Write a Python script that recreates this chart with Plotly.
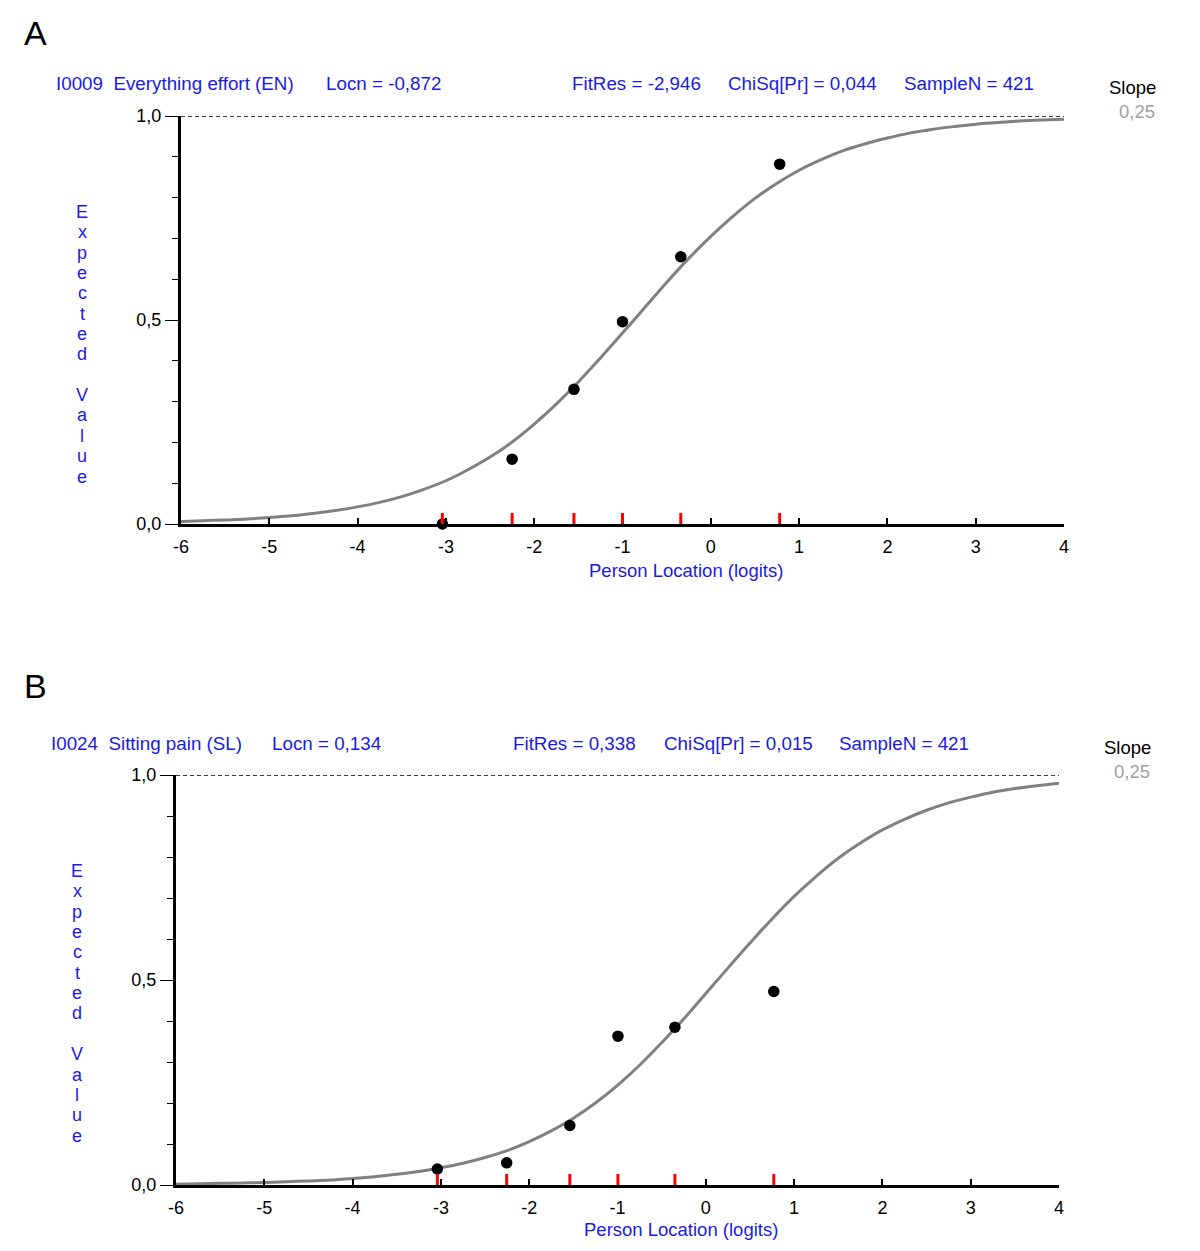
import plotly.graph_objects as go

# ---------------- data ----------------
curve_x = [-6, -5.75, -5.5, -5.25, -5, -4.75, -4.5, -4.25, -4, -3.75, -3.5, -3.25, -3, -2.75, -2.5, -2.25,
           -2, -1.75, -1.5, -1.25, -1, -0.75, -0.5, -0.25, 0, 0.25, 0.5, 0.75, 1, 1.25, 1.5, 1.75, 2,
           2.25, 2.5, 2.75, 3, 3.25, 3.5, 3.75, 4]
curve_a = [0.006, 0.008, 0.010, 0.012, 0.016, 0.020, 0.026, 0.033, 0.042, 0.053, 0.067, 0.085, 0.106,
           0.133, 0.164, 0.201, 0.245, 0.294, 0.348, 0.407, 0.468, 0.530, 0.592, 0.651, 0.705, 0.754,
           0.798, 0.835, 0.867, 0.893, 0.915, 0.932, 0.946, 0.958, 0.967, 0.974, 0.980, 0.984, 0.988,
           0.990, 0.992]
curve_b = [0.002, 0.003, 0.004, 0.005, 0.006, 0.008, 0.010, 0.012, 0.016, 0.020, 0.026, 0.033, 0.042,
           0.053, 0.067, 0.084, 0.106, 0.132, 0.163, 0.200, 0.243, 0.292, 0.347, 0.405, 0.467, 0.529,
           0.590, 0.649, 0.704, 0.753, 0.797, 0.834, 0.866, 0.892, 0.914, 0.932, 0.946, 0.958, 0.967,
           0.974, 0.980]

obs_x_a = [-3.04, -2.25, -1.55, -1.00, -0.34, 0.78]
obs_y_a = [0.0, 0.159, 0.330, 0.496, 0.655, 0.882]
obs_x_b = [-3.04, -2.255, -1.54, -0.995, -0.35, 0.77]
obs_y_b = [0.039, 0.054, 0.145, 0.363, 0.385, 0.472]

x_tick_vals = [-6, -5, -4, -3, -2, -1, 0, 1, 2, 3, 4]
x_tick_text = ["-6", "-5", "-4", "-3", "-2", "-1", "0", "1", "2", "3", "4"]
y_tick_vals = [0, 0.5, 1.0]
y_tick_text = ["0,0", "0,5", "1,0"]

panel_letters = ["A", "B"]
item_labels = ["I0009  Everything effort (EN)", "I0024  Sitting pain (SL)"]
locn_labels = ["Locn = -0,872", "Locn = 0,134"]
fitres_labels = ["FitRes = -2,946", "FitRes = 0,338"]
chisq_labels = ["ChiSq[Pr] = 0,044", "ChiSq[Pr] = 0,015"]
samplen_labels = ["SampleN = 421", "SampleN = 421"]
slope_values = ["0,25", "0,25"]
x_title = "Person Location (logits)"
y_title = "Expected Value"

# ---------------- layout helpers ----------------
PAGE_W, PAGE_H = 1200, 1251
OFF = 8  # default body margin of the html page
W, H = PAGE_W - OFF, PAGE_H - OFF
BLUE = "#1a1ae6"
FONT = "Liberation Sans, Arial, sans-serif"


def px(x):
    return (x - OFF) / W


def py(y):
    return 1 - (y - OFF) / H


panels = [
    dict(xl=181, xr=1064, yt=116, yb=524, letter=(35, 33), head_y=84,
         head_x=[55, 325, 571, 727, 903], slope=(1132, 88, 1137, 111),
         ytitle=(82, 212), xtitle=(686, 570),
         curve=curve_a, ox=obs_x_a, oy=obs_y_a),
    dict(xl=176, xr=1059, yt=775, yb=1185, letter=(35, 686), head_y=743,
         head_x=[50, 271, 512, 663, 838], slope=(1127, 747, 1132, 771),
         ytitle=(77, 871), xtitle=(681, 1229),
         curve=curve_b, ox=obs_x_b, oy=obs_y_b),
]

fig = go.Figure()
annotations = []
shapes = []


def ann(text, x, y, size, color, xanchor="center"):
    return dict(text=text, x=px(x), y=py(y), xref="paper", yref="paper",
                xanchor=xanchor, yanchor="middle", showarrow=False, borderpad=0,
                font=dict(family=FONT, size=size, color=color))


for i, p in enumerate(panels):
    n = "" if i == 0 else str(i + 1)
    xa, ya = "x" + n, "y" + n
    # curve
    fig.add_trace(go.Scatter(x=curve_x, y=p["curve"], mode="lines", xaxis=xa, yaxis=ya,
                             line=dict(color="#808080", width=3, shape="spline"),
                             showlegend=False, hoverinfo="skip"))
    # observed points
    fig.add_trace(go.Scatter(x=p["ox"], y=p["oy"], mode="markers", xaxis=xa, yaxis=ya,
                             marker=dict(color="black", size=11.5),
                             cliponaxis=False, showlegend=False))
    # red class-interval ticks
    for xv in p["ox"]:
        shapes.append(dict(type="line", xref=xa, yref=ya, x0=xv, x1=xv, y0=-0.004, y1=0.027,
                           line=dict(color="#ff0000", width=3), layer="above"))
    # dashed line at 1.0
    shapes.append(dict(type="line", xref=xa + " domain", yref=ya, x0=0, x1=1, y0=1, y1=1,
                       line=dict(color="black", width=1.6, dash="4px,3px"), layer="above"))

    axis_x = dict(domain=[px(p["xl"]), px(p["xr"])], range=[-6, 4], anchor=ya, automargin=False,
                  showgrid=False, zeroline=False, showline=True, linecolor="black", linewidth=3,
                  ticks="inside", ticklen=6, tickwidth=1.5, tickcolor="black",
                  tickvals=x_tick_vals, ticktext=x_tick_text, ticklabelstandoff=4,
                  tickfont=dict(family=FONT, size=18, color="black"))
    axis_y = dict(domain=[py(p["yb"]), py(p["yt"])], range=[0, 1], anchor=xa, automargin=False,
                  showgrid=False, zeroline=False, showline=True, linecolor="black", linewidth=3,
                  ticks="outside", ticklen=13, tickwidth=1.2, tickcolor="black",
                  tickvals=y_tick_vals, ticktext=y_tick_text,
                  tickfont=dict(family=FONT, size=18, color="black"),
                  minor=dict(dtick=0.1, ticks="outside", ticklen=6, tickwidth=1.2, tickcolor="black"))
    fig.update_layout(**{"xaxis" + n: axis_x, "yaxis" + n: axis_y})

    # panel letter
    lx, ly = p["letter"]
    annotations.append(ann(panel_letters[i], lx, ly, 34, "black"))
    # header texts
    heads = [item_labels[i], locn_labels[i], fitres_labels[i], chisq_labels[i], samplen_labels[i]]
    for hx, txt in zip(p["head_x"], heads):
        annotations.append(ann(txt, hx, p["head_y"], 18.8, BLUE, xanchor="left"))
    sx, sy, vx, vy = p["slope"]
    annotations.append(ann("Slope", sx, sy, 18.5, "black"))
    annotations.append(ann(slope_values[i], vx, vy, 18.5, "#a0a0a0"))
    # x title
    tx, ty = p["xtitle"]
    annotations.append(ann(x_title, tx, ty, 18.5, BLUE))
    # vertical stacked y title
    yx, yy = p["ytitle"]
    for k, ch in enumerate(y_title):
        if ch == " ":
            continue
        annotations.append(ann(ch, yx, yy + k * 20.35, 18, BLUE))

fig.update_layout(width=W, height=H, margin=dict(l=0, r=0, t=0, b=0, pad=0, autoexpand=False),
                  paper_bgcolor="white", plot_bgcolor="white",
                  annotations=annotations, shapes=shapes, showlegend=False,
                  font=dict(family=FONT))

fig.write_html("out.html")
